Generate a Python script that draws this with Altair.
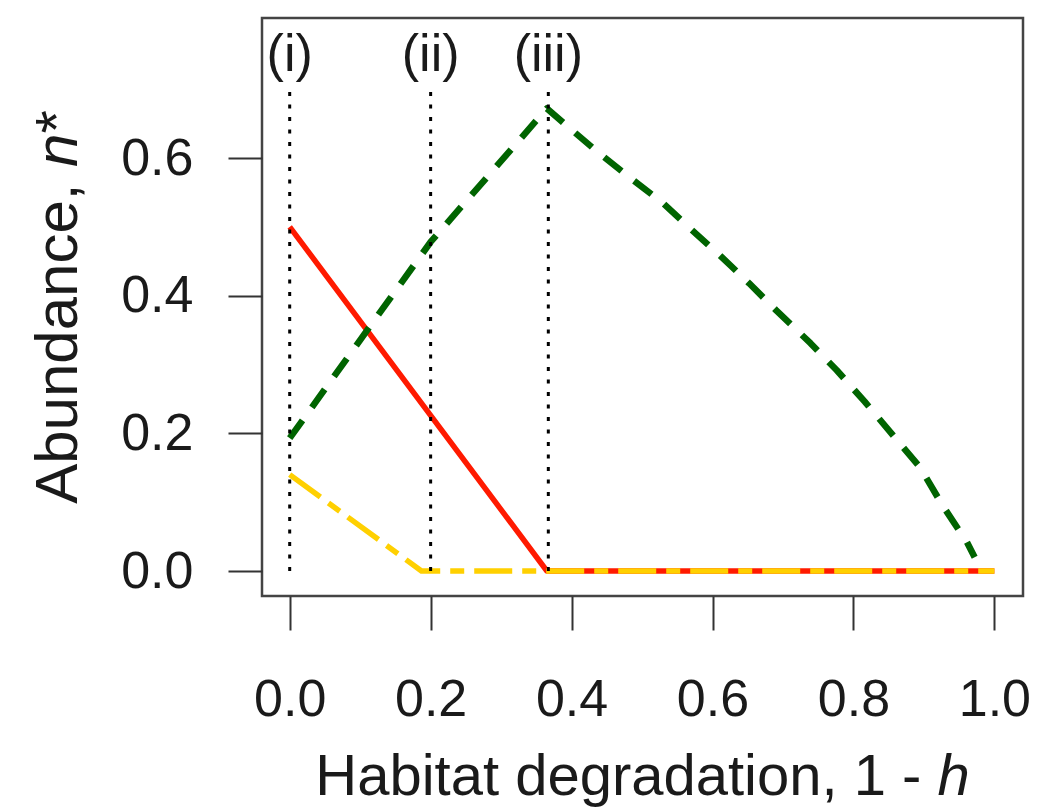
import altair as alt
import pandas as pd

# ---------------- data ----------------
x_ticks = [0.0, 0.2, 0.4, 0.6, 0.8, 1.0]
y_ticks = [0.0, 0.2, 0.4, 0.6]

red_x = [0.0, 0.365, 1.0]
red_y = [0.5, 0.0, 0.0]

yellow_x = [0.0, 0.187, 1.0]
yellow_y = [0.14, 0.0, 0.0]

green_x = [0.0, 0.2, 0.365, 0.40, 0.439, 0.481, 0.529, 0.568, 0.610, 0.652,
           0.690, 0.739, 0.776, 0.816, 0.858, 0.895, 0.926, 0.961, 0.972]
green_y = [0.193, 0.478, 0.672, 0.641, 0.607, 0.573, 0.535, 0.498, 0.459, 0.418,
           0.379, 0.331, 0.292, 0.246, 0.195, 0.150, 0.096, 0.042, 0.02]

vline_x = [0.0, 0.2, 0.367]
vline_top = [0.70, 0.70, 0.70]
vline_labels = ["(i)", "(ii)", "(iii)"]
label_y = [0.75, 0.75, 0.75]

xtitle_parts = ["Habitat degradation, 1 - ", "h"]
ytitle_parts = ["Abundance, ", "n", "*"]

# ---------------- layout / style ----------------
W, H = 761, 578
FONT = "Liberation Sans"
TICK_FS = 52
XT_FS = 58
YT_FS = 60
TXT = "#1a1a1a"

# Arial / Liberation Sans advance widths (per em)
ADV = {" ": .278, ",": .278, "-": .333, "1": .556, "A": .667, "H": .722, "a": .556,
       "b": .556, "c": .5, "d": .556, "e": .556, "g": .556, "h": .556, "i": .222,
       "n": .556, "o": .556, "r": .333, "t": .278, "u": .556, "*": .389}


def tw(s, fs):
    return sum(ADV.get(ch, .556) for ch in s) * fs


xs = alt.Scale(domain=[-0.0393, 1.0406], nice=False, zero=False)
ys = alt.Scale(domain=[-0.0363, 0.8034], nice=False, zero=False)

x_axis = alt.Axis(values=x_ticks, format=".1f", title=None, grid=False, domain=False,
                  tickSize=34, tickWidth=2, tickColor="#333333", labelFontSize=TICK_FS,
                  labelFont=FONT, labelColor=TXT, labelPadding=44, labelFlush=False,
                  labelOverlap=False)
y_axis = alt.Axis(values=y_ticks, format=".1f", title=None, grid=False, domain=False,
                  tickSize=34, tickWidth=2, tickColor="#333333", labelFontSize=TICK_FS,
                  labelFont=FONT, labelColor=TXT, labelPadding=35, labelOverlap=False)


def line_layer(xv, yv, color, width, dash=None):
    df = pd.DataFrame({"x": xv, "y": yv, "o": list(range(len(xv)))})
    kw = dict(color=color, strokeWidth=width, strokeCap="butt", strokeJoin="round")
    if dash:
        kw["strokeDash"] = dash
    return alt.Chart(df).mark_line(**kw).encode(
        x=alt.X("x:Q", scale=xs, axis=x_axis),
        y=alt.Y("y:Q", scale=ys, axis=y_axis),
        order="o:Q",
    )


red = line_layer(red_x, red_y, "#ff1a00", 5.5)
yellow = line_layer(yellow_x, yellow_y, "#ffd000", 5.5, [38, 10, 14, 10])
green = line_layer(green_x, green_y, "#006400", 6.5, [22, 16])

vdf = pd.DataFrame({"x": vline_x, "y0": [0.0] * len(vline_x), "y1": vline_top,
                    "lab": vline_labels, "ly": label_y})
rules = alt.Chart(vdf).mark_rule(color="black", strokeWidth=3, strokeDash=[4, 8.5]).encode(
    x=alt.X("x:Q", scale=xs, axis=x_axis),
    y=alt.Y("y0:Q", scale=ys, axis=y_axis),
    y2="y1:Q",
)
labels = alt.Chart(vdf).mark_text(font=FONT, fontSize=TICK_FS, color=TXT,
                                  align="center", baseline="middle").encode(
    x=alt.X("x:Q", scale=xs, axis=x_axis),
    y=alt.Y("ly:Q", scale=ys, axis=y_axis),
    text="lab:N",
)

# x title (mixed upright / italic)
xt_total = tw(xtitle_parts[0], XT_FS) + tw(xtitle_parts[1], XT_FS)
xt_start = W / 2 - xt_total / 2
xt_base = 777
xt0 = alt.Chart(pd.DataFrame({"t": [xtitle_parts[0]]})).mark_text(
    font=FONT, fontSize=XT_FS, color=TXT, align="left", baseline="alphabetic").encode(
    x=alt.value(xt_start), y=alt.value(xt_base), text="t:N")
xt1 = alt.Chart(pd.DataFrame({"t": [xtitle_parts[1]]})).mark_text(
    font=FONT, fontSize=XT_FS, fontStyle="italic", color=TXT, align="left",
    baseline="alphabetic").encode(
    x=alt.value(xt_start + tw(xtitle_parts[0], XT_FS)), y=alt.value(xt_base), text="t:N")

# y title (rotated, mixed upright / italic)
yt_total = sum(tw(p, YT_FS) for p in ytitle_parts)
yt_bottom = H / 2 + yt_total / 2
yt_base_x = -185
ytl = []
offs = 0.0
for i, part in enumerate(ytitle_parts):
    kw = dict(font=FONT, fontSize=YT_FS, color=TXT, align="left", baseline="alphabetic",
              angle=270)
    if i == 1:
        kw["fontStyle"] = "italic"
    ytl.append(alt.Chart(pd.DataFrame({"t": [part]})).mark_text(**kw).encode(
        x=alt.value(yt_base_x), y=alt.value(yt_bottom - offs), text="t:N"))
    offs += tw(part, YT_FS)

chart = alt.layer(red, yellow, green, rules, labels, xt0, xt1, *ytl).properties(
    width=W, height=H,
    autosize=alt.AutoSizeParams(type="none"),
    padding={"left": 254, "top": 10, "right": 8, "bottom": 214},
).configure(
    background="white",
    view=alt.ViewConfig(stroke="#444444", strokeWidth=2.5),
)

chart.save("out.html", embed_options={"renderer": "svg", "actions": False})
